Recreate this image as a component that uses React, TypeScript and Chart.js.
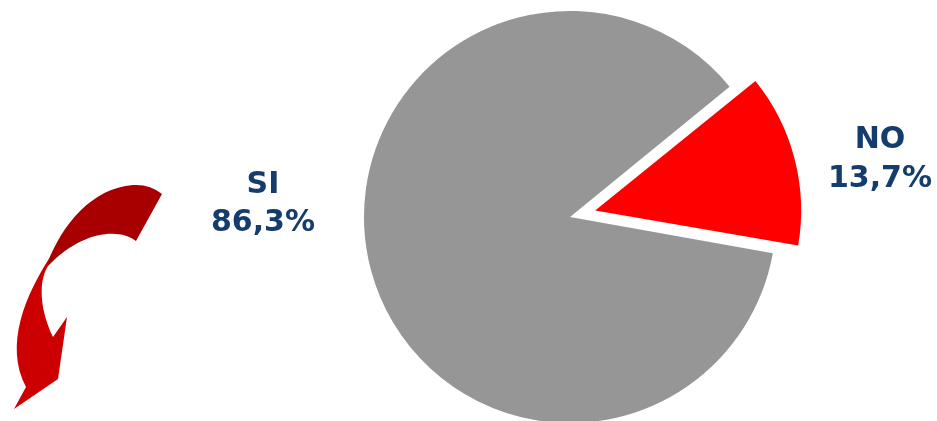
import React, { useEffect, useRef } from "react";
import { Chart, registerables } from "chart.js";

Chart.register(...registerables);

const categories = ["SI", "NO"];
const values = [86.3, 13.7];
const valueLabels = ["86,3%", "13,7%"];
const colors = ["#969696", "#FF0000"];
const offsets = [0, 104];

const PIE_RADIUS = 206;
const TEXT_COLOR = "#143C6C";
const FONT = "bold 30px 'DejaVu Sans', Verdana, sans-serif";

const labelPositions = [
  { x: 263, y1: 193, y2: 231 },
  { x: 880, y1: 148, y2: 187 },
];

const fixRadius = {
  id: "fixRadius",
  beforeDatasetsDraw(chart: any) {
    const meta = chart.getDatasetMeta(0);
    meta.data.forEach((arc: any, i: number) => {
      const off = (offsets[i] || 0) / 4;
      const fix = 1 - Math.sin(Math.min(Math.PI, arc.circumference || 0));
      arc.outerRadius = PIE_RADIUS - off * fix;
    });
  },
};

const decorations = {
  id: "decorations",
  afterDraw(chart: any) {
    const ctx = chart.ctx as CanvasRenderingContext2D;
    ctx.save();
    // lower part of the curved arrow
    ctx.fillStyle = "#CC0000";
    ctx.beginPath();
    ctx.moveTo(52, 254);
    ctx.bezierCurveTo(25, 295, 4, 345, 26, 387);
    ctx.lineTo(14, 409);
    ctx.lineTo(58, 379);
    ctx.lineTo(67, 317);
    ctx.lineTo(53, 337);
    ctx.bezierCurveTo(40, 310, 38, 282, 48, 266);
    ctx.closePath();
    ctx.fill();
    // upper band
    ctx.fillStyle = "#A80000";
    ctx.beginPath();
    ctx.moveTo(48, 262);
    ctx.bezierCurveTo(62, 225, 92, 188, 133, 185);
    ctx.quadraticCurveTo(150, 184, 162, 194);
    ctx.lineTo(136, 241);
    ctx.bezierCurveTo(120, 228, 82, 230, 48, 266);
    ctx.closePath();
    ctx.fill();

    // labels
    ctx.fillStyle = TEXT_COLOR;
    ctx.font = FONT;
    ctx.textAlign = "center";
    ctx.textBaseline = "alphabetic";
    categories.forEach((c, i) => {
      const p = labelPositions[i];
      ctx.fillText(c, p.x, p.y1);
      ctx.fillText(valueLabels[i], p.x, p.y2);
    });
    ctx.restore();
  },
};

export default function App() {
  const ref = useRef<HTMLCanvasElement | null>(null);
  useEffect(() => {
    if (!ref.current) return;
    const chart = new Chart(ref.current, {
      type: "pie",
      data: {
        labels: categories,
        datasets: [
          {
            data: values,
            backgroundColor: colors,
            borderWidth: 0,
            offset: offsets,
          } as any,
        ],
      },
      options: {
        responsive: false,
        animation: false,
        events: [],
        rotation: 100.1,
        radius: PIE_RADIUS,
        layout: { padding: { left: 203, top: 13, right: 0, bottom: 0 } },
        plugins: { legend: { display: false }, tooltip: { enabled: false } },
      } as any,
      plugins: [fixRadius, decorations],
    });
    return () => chart.destroy();
  }, []);
  return (
    <div style={{ position: "absolute", left: 0, top: 0, width: 937, height: 421, background: "#fff" }}>
      <canvas ref={ref} width={937} height={421} style={{ width: 937, height: 421, display: "block" }} />
    </div>
  );
}
